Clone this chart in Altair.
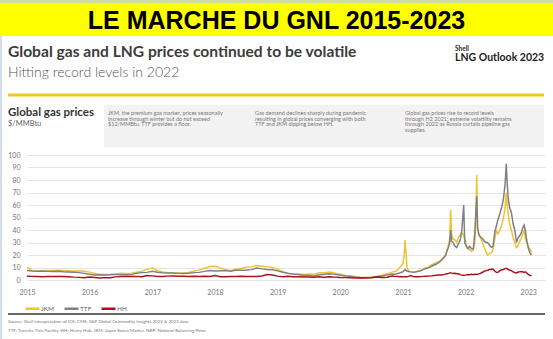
import altair as alt
import pandas as pd

# ---------------- data ----------------
monthly_dates = pd.date_range("2015-01-01", "2020-09-01", freq="MS").strftime("%Y-%m-%d").tolist()
monthly_jkm = [
    10.0, 7.5, 7.2, 7.4, 7.6, 7.7, 7.8, 7.7, 7.4, 7.0, 7.3, 7.0,
    6.3, 5.3, 4.4, 4.5, 4.6, 4.8, 5.4, 5.3, 5.5, 6.3, 7.0, 8.5,
    9.6, 7.5, 6.5, 5.9, 5.6, 5.6, 5.7, 6.0, 7.2, 7.9, 9.4, 10.8,
    11.0, 9.6, 8.5, 7.5, 8.4, 9.2, 10.2, 10.5, 11.5, 11.0, 10.5, 10.0,
    8.5, 6.7, 5.3, 5.0, 5.0, 4.5, 4.7, 4.6, 5.8, 5.9, 6.3, 5.5,
    4.6, 3.6, 3.4, 2.6, 2.1, 2.3, 2.5, 3.0, 3.9,
]
monthly_ttf = [
    7.6, 7.2, 7.0, 7.1, 6.9, 6.8, 6.9, 6.6, 6.4, 6.2, 5.9, 5.3,
    4.6, 4.0, 4.1, 4.0, 4.2, 4.4, 4.3, 4.2, 4.3, 5.4, 5.9, 6.1,
    7.0, 6.2, 5.8, 5.6, 5.6, 5.3, 5.2, 5.4, 5.9, 6.1, 6.9, 7.5,
    7.2, 7.4, 7.5, 7.1, 7.8, 7.9, 7.9, 8.3, 9.5, 8.9, 8.4, 8.2,
    7.3, 6.2, 5.4, 4.7, 4.3, 3.6, 3.6, 3.3, 4.2, 4.6, 4.9, 4.5,
    3.8, 3.2, 2.9, 2.3, 1.8, 1.9, 2.0, 2.6, 3.2,
]
monthly_hh = [
    3.0, 2.9, 2.8, 2.6, 2.8, 2.8, 2.8, 2.8, 2.6, 2.3, 2.1, 1.9,
    2.3, 2.0, 1.7, 1.9, 1.9, 2.5, 2.8, 2.8, 2.9, 2.9, 2.6, 3.5,
    3.3, 2.9, 2.9, 3.1, 3.2, 3.0, 3.0, 2.9, 3.0, 2.9, 3.0, 2.8,
    3.6, 2.7, 2.7, 2.8, 2.8, 2.9, 2.8, 2.9, 2.9, 3.2, 4.3, 4.0,
    3.1, 2.7, 2.9, 2.6, 2.6, 2.4, 2.4, 2.2, 2.6, 2.3, 2.6, 2.3,
    2.0, 1.9, 1.8, 1.7, 1.8, 1.7, 1.8, 2.3, 2.0,
]

late_dates = [
    "2020-10-01", "2020-10-15", "2020-11-01", "2020-11-15", "2020-12-01", "2020-12-15",
    "2021-01-01", "2021-01-08", "2021-01-13", "2021-01-18", "2021-01-25",
    "2021-02-01", "2021-02-15", "2021-03-01", "2021-03-15", "2021-04-01", "2021-04-15",
    "2021-05-01", "2021-05-15", "2021-06-01", "2021-06-15", "2021-07-01", "2021-07-15",
    "2021-08-01", "2021-08-15",
    "2021-09-01", "2021-09-08", "2021-09-15", "2021-09-22",
    "2021-10-01", "2021-10-06", "2021-10-12", "2021-10-20",
    "2021-11-01", "2021-11-10", "2021-11-20",
    "2021-12-01", "2021-12-10", "2021-12-21", "2021-12-27",
    "2022-01-05", "2022-01-15", "2022-01-25",
    "2022-02-05", "2022-02-15", "2022-02-24",
    "2022-03-02", "2022-03-07", "2022-03-12", "2022-03-20",
    "2022-04-01", "2022-04-10", "2022-04-20",
    "2022-05-01", "2022-05-10", "2022-05-20",
    "2022-06-01", "2022-06-10", "2022-06-20",
    "2022-07-01", "2022-07-10", "2022-07-20",
    "2022-08-01", "2022-08-10", "2022-08-20", "2022-08-26",
    "2022-09-01", "2022-09-07", "2022-09-15", "2022-09-25",
    "2022-10-05", "2022-10-15", "2022-10-25",
    "2022-11-01", "2022-11-10", "2022-11-20",
    "2022-12-01", "2022-12-08", "2022-12-15", "2022-12-22",
    "2023-01-01", "2023-01-10", "2023-01-20",
]
late_jkm = [
    5.0, 5.5, 6.5, 6.8, 8.0, 10.5,
    13.0, 20.0, 32.0, 22.0, 10.0,
    7.8, 6.5, 6.4, 6.6, 7.4, 7.8,
    8.8, 9.8, 10.5, 12.0, 13.0, 13.8,
    15.0, 16.5,
    19.0, 21.0, 24.0, 27.0,
    34.0, 56.0, 36.0, 33.0,
    32.0, 30.0, 34.0,
    36.0, 38.0, 36.0, 33.0,
    28.0, 26.0, 24.0,
    23.0, 24.0, 30.0,
    50.0, 84.0, 40.0, 36.0,
    33.0, 30.0, 26.0,
    22.0, 20.0, 21.0,
    22.0, 24.0, 33.0,
    39.0, 37.0, 40.0,
    45.0, 50.0, 58.0, 70.0,
    60.0, 52.0, 45.0, 40.0,
    34.0, 30.0, 26.0,
    27.0, 30.0, 33.0,
    37.0, 40.0, 34.0, 30.0,
    27.0, 25.0, 22.0,
]
late_ttf = [
    4.1, 4.4, 4.8, 4.6, 5.2, 5.8,
    6.6, 7.5, 8.5, 7.8, 7.2,
    6.8, 6.5, 6.3, 6.4, 6.9, 7.3,
    8.5, 9.2, 9.9, 10.8, 12.0, 12.8,
    14.2, 16.0,
    18.5, 20.0, 23.5, 26.0,
    30.0, 40.0, 31.0, 30.0,
    27.0, 26.0, 29.0,
    32.0, 40.0, 60.0, 30.0,
    27.0, 25.0, 27.0,
    25.0, 25.0, 38.0,
    55.0, 67.0, 42.0, 36.0,
    34.0, 33.0, 31.0,
    30.0, 30.0, 28.0,
    26.0, 27.0, 38.0,
    44.0, 49.0, 53.0,
    59.0, 65.0, 78.0, 93.0,
    76.0, 65.0, 58.0, 54.0,
    45.0, 40.0, 30.0,
    33.0, 35.0, 37.0,
    42.0, 44.0, 40.0, 33.0,
    26.0, 22.0, 20.0,
]
late_hh = [
    2.2, 2.8, 3.1, 2.9, 2.8, 2.6,
    2.6, 2.7, 2.7, 2.6, 2.6,
    2.9, 3.6, 2.7, 2.6, 2.6, 2.7,
    2.9, 3.0, 3.1, 3.3, 3.6, 3.8,
    4.0, 4.0,
    4.5, 4.8, 5.0, 5.1,
    5.7, 5.8, 5.5, 5.2,
    5.4, 5.0, 5.0,
    4.3, 3.9, 3.8, 3.9,
    4.0, 4.3, 4.2,
    4.5, 4.2, 4.6,
    4.6, 4.7, 4.7, 4.9,
    5.6, 6.2, 7.0,
    7.5, 7.8, 8.4,
    8.6, 8.8, 7.2,
    6.0, 6.3, 7.5,
    8.2, 8.4, 9.3, 9.3,
    9.0, 8.2, 8.0, 7.5,
    6.5, 6.0, 5.6,
    6.2, 6.5, 6.8,
    6.5, 6.0, 6.5, 5.8,
    4.5, 3.8, 3.4,
]

series_names = ["JKM", "TTF", "HH"]
series_colors = ["#F0C233", "#808080", "#A8141B"]
year_ticks = list(range(2015, 2024))
y_ticks = list(range(0, 101, 10))

banner_text = "LE MARCHE DU GNL 2015-2023"
headline = "Global gas and LNG prices continued to be volatile"
subheadline = "Hitting record levels in 2022"
chart_title = "Global gas prices"
unit_text = "$/MMBtu"
note1 = ["JKM, the premium gas marker, prices seasonally",
         "increase through winter but do not exceed",
         "$12/MMBtu. TTF provides a floor."]
note2 = ["Gas demand declines sharply during pandemic",
         "resulting in global prices converging with both",
         "TTF and JKM dipping below HH."]
note3 = ["Global gas prices rise to record levels",
         "through H2 2021; extreme volatility remains",
         "through 2022 as Russia curtails pipeline gas",
         "supplies."]
source1 = "Source: Shell interpretation of ICE, CME, S&P Global Commodity Insights 2022 & 2023 data"
source2 = "TTF: Transfer Title Facility. HH: Henry Hub. JKM: Japan Korea Marker. NBP: National Balancing Point"

# ---------------- table ----------------
all_dates = monthly_dates + late_dates
cols = {"JKM": monthly_jkm + late_jkm, "TTF": monthly_ttf + late_ttf, "HH": monthly_hh + late_hh}
rows = []
for name in series_names:
    for d, v in zip(all_dates, cols[name]):
        rows.append({"date": d, "series": name, "price": v})
df = pd.DataFrame(rows)

# ---------------- layout ----------------
LEFT, TOP = 27, 155
W, H = 518, 125
FONT = "Lato"


def px(x):
    return x - LEFT


def py(y):
    return y - TOP


one = pd.DataFrame({"k": [0]})


def rect(x1, x2, y1, y2, color):
    return alt.Chart(one).mark_rect(color=color).encode(
        x=alt.value(px(x1)), x2=alt.value(px(x2)), y=alt.value(py(y1)), y2=alt.value(py(y2)))


def hrule(x1, x2, y, color, width):
    return alt.Chart(one).mark_rule(color=color, strokeWidth=width).encode(
        x=alt.value(px(x1)), x2=alt.value(px(x2)), y=alt.value(py(y)))


def text(t, x, y, size, color="#333333", weight="normal", font=FONT, align="left", line_height=None):
    kw = dict(fontSize=size, color=color, fontWeight=weight, font=font, align=align, baseline="alphabetic")
    if line_height is not None:
        kw["lineHeight"] = line_height
    return alt.Chart(one).mark_text(**kw).encode(
        x=alt.value(px(x)), y=alt.value(py(y)), text=alt.value(t))


color_scale = alt.Scale(domain=series_names, range=series_colors)

x_enc = alt.X(
    "date:T",
    scale=alt.Scale(type="utc", domain=[alt.DateTime(year=2015, month=1, date=1, utc=True),
                                        alt.DateTime(year=2023, month=4, date=9, utc=True)], nice=False),
    axis=alt.Axis(values=[alt.DateTime(year=y, month=1, date=1, utc=True) for y in year_ticks],
                  format="%Y", grid=False, domain=False, ticks=False, labelFlush=False,
                  labelOverlap=False, labelPadding=8, labelFontSize=7, labelColor="#777777",
                  labelFont=FONT, title=None),
)
y_enc = alt.Y(
    "price:Q",
    scale=alt.Scale(domain=[0, 100], nice=False),
    axis=alt.Axis(values=y_ticks, domain=False, ticks=False, labelPadding=7, labelFontSize=7,
                  labelColor="#777777", labelFont=FONT, gridColor="#E6E6E6", gridWidth=1, title=None),
)

lines = []
for name in series_names:
    lines.append(
        alt.Chart(df).transform_filter(alt.datum.series == name).mark_line(strokeWidth=1.5).encode(
            x=x_enc, y=y_enc,
            color=alt.Color("series:N", scale=color_scale,
                            legend=alt.Legend(orient="none", legendX=-3, legendY=145, direction="horizontal",
                                              title=None, symbolType="stroke", symbolStrokeWidth=2.5,
                                              symbolSize=196, labelFontSize=6.5, labelColor="#666666",
                                              labelFont=FONT, labelOffset=0, columnPadding=4)),
        )
    )

decor = [
    rect(0, 553, 0, 3, "#C8E0A8"),
    rect(0, 553, 3, 36, "#FFFF00"),
    rect(0, 2, 36, 339, "#D3DDE8"),
    text(banner_text, 276.5, 29, 25, color="#000000", weight="bold", font="Liberation Sans", align="center"),
    text(headline, 8, 57, 15.6, color="#3C3C3C", weight="bold"),
    text(subheadline, 8, 77, 14, color="#555555", weight=300),
    text("Shell", 455, 50.5, 6.5, color="#222222", weight="bold"),
    text("LNG Outlook 2023", 455, 60.5, 10.5, color="#222222", weight="bold"),
    hrule(8, 544, 95, "#F2C81E", 3),
    text(chart_title, 8, 116, 11.5, color="#333333", weight="bold"),
    text(unit_text, 8, 126, 7.5, color="#666666"),
    rect(104, 544, 105, 147, "#F2F2F2"),
    text(note1, 108, 115, 5.5, color="#777777", line_height=5.6),
    text(note2, 255, 115, 5.5, color="#777777", line_height=5.6),
    text(note3, 405, 115, 5.5, color="#777777", line_height=5.6),
    hrule(8, 545, 314, "#333333", 1.5),
    text(source1, 8, 323, 4.5, color="#777777"),
    text(source2, 8, 332, 4.5, color="#777777"),
]

chart = alt.layer(*decor, *lines).properties(
    width=W, height=H,
    autosize=alt.AutoSizeParams(type="none"),
    padding={"left": LEFT, "top": TOP, "right": 553 - LEFT - W, "bottom": 339 - TOP - H},
    background="#FFFFFF",
).configure_view(strokeWidth=0)

chart.save("out.html", embed_options={"renderer": "svg", "actions": False})
